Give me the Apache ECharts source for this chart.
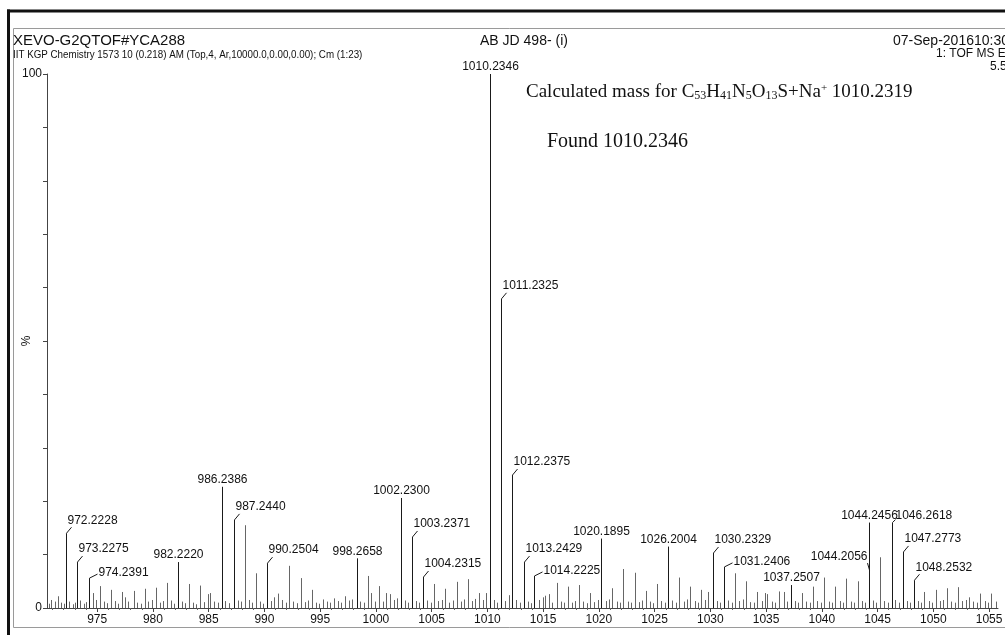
<!DOCTYPE html>
<html>
<head>
<meta charset="utf-8">
<title>AB JD 498- (i)</title>
<script src="https://cdn.jsdelivr.net/npm/echarts@6/dist/echarts.min.js"></script>
<style>
html, body { margin: 0; padding: 0; background: #fff; }
#main { width: 1005px; height: 635px; }
</style>
</head>
<body>
<div id="main"></div>
<script>
// labelled peaks (m/z, relative intensity %)
var peakMz = [972.2228, 973.2275, 974.2391, 982.2220, 986.2386, 987.2440, 990.2504, 998.2658,
  1002.2300, 1003.2371, 1004.2315, 1010.2346, 1011.2325, 1012.2375, 1013.2429, 1014.2225,
  1020.1895, 1026.2004, 1030.2329, 1031.2406, 1037.2507, 1044.2056, 1044.2456, 1046.2618,
  1047.2773, 1048.2532]
var peakInt = [14.0, 8.6, 5.6, 8.6, 22.7, 16.5, 8.4, 9.3,
  20.6, 13.3, 5.8, 100, 57.9, 24.9, 8.6, 6.0,
  13.0, 11.5, 10.3, 7.7, 4.3, 7.1, 16.0, 16.0,
  10.5, 5.2]
var peakText = ['972.2228', '973.2275', '974.2391', '982.2220', '986.2386', '987.2440', '990.2504', '998.2658',
  '1002.2300', '1003.2371', '1004.2315', '1010.2346', '1011.2325', '1012.2375', '1013.2429', '1014.2225',
  '1020.1895', '1026.2004', '1030.2329', '1031.2406', '1037.2507', '1044.2056', '1044.2456', '1046.2618',
  '1047.2773', '1048.2532']

// unlabelled peaks and baseline noise [m/z, %]
var minorPeaks = [
  [970.7, 0.8], [970.9, 1.5], [971.2, 1.2], [971.5, 2.2], [971.8, 1.0], [972.0, 0.8], [972.5, 1.2], [972.8, 0.7],
  [973.0, 1.0], [973.5, 1.4], [973.8, 0.8], [974.0, 1.1], [974.64, 2.8], [974.9, 1.5],
  [975.26, 4.1], [975.6, 1.2], [975.9, 0.9], [976.26, 3.4], [976.6, 1.3], [976.9, 0.8],
  [977.27, 3.0], [977.5, 2.0], [977.8, 1.2], [978.27, 3.2], [978.6, 1.0], [978.9, 0.8],
  [979.27, 3.6], [979.6, 1.2], [979.9, 1.5], [980.26, 3.8], [980.6, 1.0], [980.9, 1.3],
  [981.27, 4.7], [981.6, 1.4], [981.9, 0.8], [982.6, 1.2], [982.9, 0.9],
  [983.24, 4.5], [983.6, 1.0], [983.9, 0.7], [984.24, 4.2], [984.6, 1.1], [984.9, 2.6],
  [985.1, 2.8], [985.5, 1.2], [985.8, 1.0], [986.5, 1.3], [986.8, 0.9], [987.6, 1.4], [987.9, 1.2],
  [988.24, 15.5], [988.6, 1.5], [988.9, 1.0], [989.25, 6.5], [989.6, 1.2], [989.9, 0.8],
  [990.6, 1.3], [990.9, 2.0], [991.25, 2.7], [991.6, 1.5], [991.9, 1.0],
  [992.25, 7.9], [992.6, 1.2], [992.9, 0.9], [993.25, 5.6], [993.6, 1.1], [993.9, 1.4],
  [994.25, 3.4], [994.6, 1.0], [994.9, 0.8], [995.25, 1.6], [995.6, 1.2], [995.9, 1.0],
  [996.25, 1.8], [996.6, 1.3], [996.9, 1.0], [997.26, 2.2], [997.6, 1.4], [997.9, 1.6],
  [998.6, 1.2], [998.9, 1.0], [999.27, 6.0], [999.6, 2.8], [999.9, 1.2],
  [1000.27, 4.1], [1000.6, 1.2], [1000.9, 2.8], [1001.25, 2.6], [1001.6, 1.5], [1001.9, 1.8],
  [1002.6, 1.4], [1002.9, 1.0], [1003.6, 1.3], [1003.9, 1.0], [1004.6, 1.4], [1004.9, 1.0],
  [1005.24, 4.5], [1005.6, 1.3], [1005.9, 1.5], [1006.24, 3.6], [1006.6, 1.0], [1006.9, 1.4],
  [1007.24, 4.9], [1007.6, 1.2], [1007.9, 1.6], [1008.24, 5.4], [1008.6, 1.3], [1008.9, 1.7],
  [1009.24, 2.8], [1009.6, 1.5], [1009.9, 2.8], [1010.6, 1.5], [1010.9, 1.0],
  [1011.6, 1.3], [1011.9, 2.4], [1012.6, 1.5], [1012.9, 1.0], [1013.6, 1.2], [1013.9, 0.9],
  [1014.6, 1.5], [1014.95, 2.0], [1015.15, 2.3], [1015.5, 2.6], [1015.8, 1.0],
  [1016.22, 4.7], [1016.6, 1.2], [1016.9, 1.0], [1017.22, 4.0], [1017.6, 1.0], [1017.9, 1.3],
  [1018.22, 4.3], [1018.6, 1.2], [1018.9, 0.9], [1019.2, 2.8], [1019.6, 1.1], [1019.9, 1.5],
  [1020.6, 1.3], [1020.9, 1.6], [1021.2, 3.7], [1021.6, 1.2], [1021.9, 1.0],
  [1022.2, 7.3], [1022.6, 1.2], [1022.9, 1.0], [1023.2, 6.6], [1023.6, 1.1], [1023.9, 1.4],
  [1024.2, 3.2], [1024.6, 1.2], [1024.9, 0.9], [1025.2, 4.5], [1025.6, 1.3], [1025.9, 1.0],
  [1026.6, 1.4], [1026.9, 1.0], [1027.2, 5.7], [1027.6, 1.2], [1027.9, 1.6],
  [1028.2, 4.0], [1028.6, 1.3], [1028.9, 1.0], [1029.2, 3.4], [1029.5, 1.5], [1029.8, 3.0],
  [1030.6, 1.3], [1030.9, 1.0], [1031.6, 1.4], [1031.9, 1.0],
  [1032.2, 6.5], [1032.6, 1.3], [1032.9, 1.6], [1033.2, 5.0], [1033.6, 1.1], [1033.9, 1.0],
  [1034.2, 3.0], [1034.6, 1.3], [1034.9, 2.8], [1035.1, 2.6], [1035.5, 1.2], [1035.8, 1.0],
  [1036.2, 3.1], [1036.6, 3.0], [1036.9, 1.2], [1037.6, 1.3], [1037.9, 1.0],
  [1038.2, 2.8], [1038.6, 1.2], [1038.9, 1.0], [1039.2, 4.0], [1039.6, 1.3], [1039.9, 1.0],
  [1040.2, 5.7], [1040.6, 1.2], [1040.9, 1.0], [1041.2, 4.0], [1041.6, 1.3], [1041.9, 1.0],
  [1042.2, 5.5], [1042.6, 1.2], [1042.9, 1.0], [1043.2, 5.0], [1043.6, 1.3], [1043.9, 1.0],
  [1044.6, 1.4], [1044.9, 1.0], [1045.2, 9.5], [1045.6, 1.3], [1045.9, 1.0],
  [1046.6, 1.5], [1046.9, 1.0], [1047.6, 1.3], [1047.9, 1.0], [1048.6, 1.3], [1048.9, 1.0],
  [1049.2, 3.0], [1049.6, 1.3], [1049.9, 1.0], [1050.2, 3.4], [1050.6, 1.3], [1050.9, 1.5],
  [1051.2, 3.7], [1051.6, 1.2], [1051.9, 1.0], [1052.2, 3.9], [1052.6, 1.3], [1052.9, 1.5],
  [1053.2, 2.0], [1053.6, 1.2], [1053.9, 1.0], [1054.2, 2.7], [1054.6, 1.3], [1054.9, 1.0],
  [1055.2, 2.7], [1055.6, 1.2]
]

// axis ticks
var xTickValues = [975, 980, 985, 990, 995, 1000, 1005, 1010, 1015, 1020, 1025, 1030, 1035, 1040, 1045, 1050, 1055]
var xMinorValues = [971, 972, 973, 974, 976, 977, 978, 979, 981, 982, 983, 984, 986, 987, 988, 989,
  991, 992, 993, 994, 996, 997, 998, 999, 1001, 1002, 1003, 1004, 1006, 1007, 1008, 1009,
  1011, 1012, 1013, 1014, 1016, 1017, 1018, 1019, 1021, 1022, 1023, 1024, 1026, 1027, 1028, 1029,
  1031, 1032, 1033, 1034, 1036, 1037, 1038, 1039, 1041, 1042, 1043, 1044, 1046, 1047, 1048, 1049,
  1051, 1052, 1053, 1054]

var sans = 'Liberation Sans, Arial, sans-serif'
var serif = 'Liberation Serif, Times New Roman, serif'
var ink = '#1a1a1a'

// where each peak label sits relative to the peak top
var place = {
  c: { dx: 0, dy: -7, align: 'center' },
  r: { dx: 1, dy: -13, align: 'left', leader: [5, -6] },
  h: { dx: 9, dy: -5, align: 'left', leader: [8, -4] },
  l: { dx: -2, dy: -13, align: 'right', leader: [-2, -7] },
  rs: { dx: 3, dy: -7, align: 'left', leader: [3, -3] }
}
var labelPlace = {
  '972.2228': 'r', '973.2275': 'r', '974.2391': 'h', '987.2440': 'r', '990.2504': 'r',
  '1003.2371': 'r', '1004.2315': 'r', '1011.2325': 'r', '1012.2375': 'r', '1013.2429': 'r',
  '1014.2225': 'h', '1030.2329': 'r', '1031.2406': 'h', '1044.2056': 'l', '1046.2618': 'rs',
  '1047.2773': 'r', '1048.2532': 'r'
}

function stick (api, color) {
  var top = api.coord([api.value(0), api.value(1)])
  var base = api.coord([api.value(0), 0])
  var x = Math.round(top[0]) + 0.5
  return {
    top: [x, top[1]],
    el: {
      type: 'line',
      shape: { x1: x, y1: base[1], x2: x, y2: top[1] },
      style: { stroke: color, lineWidth: 1 }
    }
  }
}

function renderMinor (params, api) {
  return stick(api, '#666').el
}

function renderPeak (params, api) {
  var s = stick(api, ink)
  var txt = peakText[params.dataIndex]
  var p = place[labelPlace[txt] || 'c']
  var children = [s.el]
  if (p.leader) {
    children.push({
      type: 'line',
      shape: { x1: s.top[0], y1: s.top[1], x2: s.top[0] + p.leader[0], y2: s.top[1] + p.leader[1] },
      style: { stroke: ink, lineWidth: 1 }
    })
  }
  children.push({
    type: 'text',
    style: {
      text: txt,
      x: s.top[0] + p.dx,
      y: s.top[1] + p.dy,
      align: p.align,
      textAlign: p.align,
      verticalAlign: 'middle',
      textVerticalAlign: 'middle',
      font: '12px ' + sans,
      fill: '#111'
    }
  })
  return { type: 'group', children: children }
}

function headerText (txt, x, y, size, opts) {
  opts = opts || {}
  return {
    type: 'text',
    x: x,
    y: y,
    scaleX: opts.scaleX || 1,
    silent: true,
    style: {
      text: txt,
      font: size + 'px ' + (opts.family || sans),
      fill: '#111',
      align: opts.align || 'left',
      textAlign: opts.align || 'left',
      verticalAlign: 'middle',
      textVerticalAlign: 'middle',
      rich: opts.rich
    }
  }
}

var chart = echarts.init(document.getElementById('main'))
chart.setOption({
  animation: false,
  backgroundColor: '#fff',
  textStyle: { fontFamily: sans },
  grid: { left: 47, right: 7, top: 74, bottom: 27, containLabel: false, outerBoundsMode: 'none' },
  xAxis: [
    {
      type: 'value',
      min: 970.5,
      max: 1055.8,
      axisLine: { show: true, onZero: false, lineStyle: { color: '#444', width: 1 } },
      axisTick: { show: true, length: 4, customValues: xTickValues, lineStyle: { color: '#444' } },
      axisLabel: {
        customValues: xTickValues,
        color: '#111',
        fontSize: 12,
        margin: 6,
        fontFamily: sans,
        formatter: function (v) { return String(v) }
      },
      splitLine: { show: false }
    },
    {
      type: 'value',
      min: 970.5,
      max: 1055.8,
      position: 'bottom',
      axisLine: { show: false },
      axisTick: { show: true, length: 2, customValues: xMinorValues, lineStyle: { color: '#666' } },
      axisLabel: { show: false },
      splitLine: { show: false }
    }
  ],
  yAxis: [
    {
      type: 'value',
      min: 0,
      max: 100,
      interval: 10,
      axisLine: { show: true, lineStyle: { color: '#444', width: 1 } },
      axisTick: { show: true, length: 4, lineStyle: { color: '#444' } },
      axisLabel: {
        color: '#111',
        fontSize: 12,
        margin: 5,
        fontFamily: sans,
        formatter: function (v) { return (v === 0 || v === 100) ? String(v) : '' }
      },
      splitLine: { show: false }
    },
    {
      // carries only the rotated "%" at mid height
      type: 'value',
      min: 0,
      max: 100,
      interval: 10,
      position: 'left',
      axisLine: { show: false },
      axisTick: { show: false },
      axisLabel: {
        color: '#111',
        fontSize: 12,
        rotate: 90,
        margin: 14,
        fontFamily: sans,
        formatter: function (v) { return v === 50 ? '%' : '' }
      },
      splitLine: { show: false }
    }
  ],
  series: [
    {
      type: 'custom',
      name: 'noise',
      xAxisIndex: 0,
      yAxisIndex: 0,
      renderItem: renderMinor,
      encode: { x: 0, y: 1 },
      data: minorPeaks,
      clip: true,
      silent: true
    },
    {
      type: 'custom',
      name: 'peaks',
      xAxisIndex: 0,
      yAxisIndex: 0,
      renderItem: renderPeak,
      encode: { x: 0, y: 1 },
      data: peakMz.map(function (m, i) { return [m, peakInt[i]] }),
      clip: false,
      silent: true
    }
  ],
  graphic: [
    { type: 'rect', silent: true, shape: { x: 7, y: 9.5, width: 1000, height: 3 }, style: { fill: '#111' } },
    { type: 'rect', silent: true, shape: { x: 7, y: 9.5, width: 3, height: 630 }, style: { fill: '#111' } },
    {
      type: 'polyline',
      silent: true,
      shape: { points: [[1010, 28.5], [13.5, 28.5], [13.5, 627.5], [1010, 627.5]] },
      style: { stroke: '#9a9a9a', lineWidth: 1, fill: null }
    },
    headerText('XEVO-G2QTOF#YCA288', 13, 41, 14, { scaleX: 1.07 }),
    headerText('IIT KGP Chemistry 1573 10 (0.218) AM (Top,4, Ar,10000.0,0.00,0.00); Cm (1:23)', 13, 55, 11, { scaleX: 0.89 }),
    headerText('AB JD 498- (i)', 480, 41, 14),
    headerText('07-Sep-201610:30:29', 893, 41, 14),
    headerText('1: TOF MS ES+', 936, 54, 12),
    headerText('5.58e3', 990, 67, 12),
    headerText('Calculated mass for C{s|53}H{s|41}N{s|5}O{s|13}S+Na{p|+} 1010.2319', 526, 92, 19, {
      family: serif,
      rich: {
        s: { fontSize: 12, fontFamily: 'Liberation Serif', verticalAlign: 'bottom', lineHeight: 12 },
        p: { fontSize: 11, fontFamily: 'Liberation Serif', verticalAlign: 'top', lineHeight: 11 }
      }
    }),
    headerText('Found 1010.2346', 547, 142, 20, { family: serif })
  ]
})
</script>
</body>
</html>
